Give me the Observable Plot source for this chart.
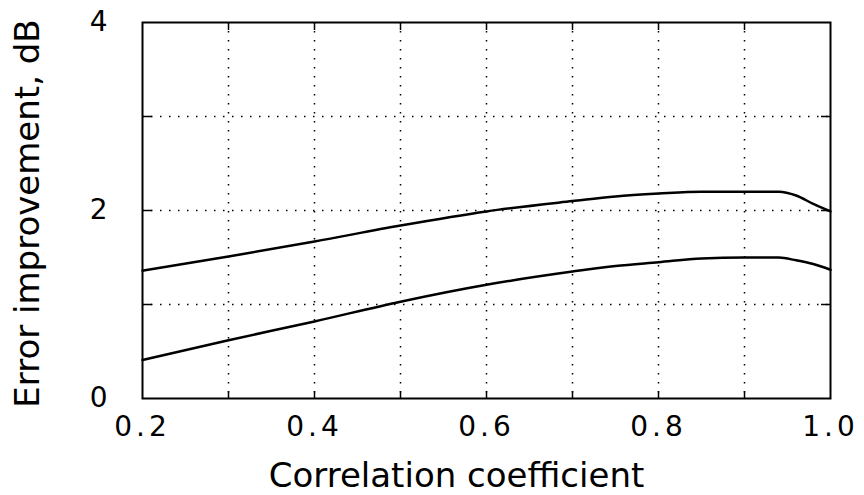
<!DOCTYPE html>
<html>
<head>
<meta charset="utf-8">
<script src="https://cdn.jsdelivr.net/npm/d3@7"></script>
<script src="https://cdn.jsdelivr.net/npm/@observablehq/plot@0.6"></script>
<style>
  html, body { margin: 0; padding: 0; background: #fff; }
  g[aria-label="x-axis tick label"] text { letter-spacing: 4px; }
</style>
</head>
<body>
<div id="chart"></div>
<script>
// Correlation coefficient (x) values where curves were read
const rho = [0.2, 0.3, 0.4, 0.5, 0.6, 0.7, 0.75, 0.8, 0.85, 0.9, 0.94, 0.96, 0.98, 1.0];
// Upper curve: error improvement, dB
const upperDb = [1.36, 1.51, 1.67, 1.84, 1.99, 2.10, 2.15, 2.18, 2.20, 2.20, 2.20, 2.16, 2.07, 1.99];
// Lower curve: error improvement, dB
const lowerDb = [0.41, 0.62, 0.82, 1.03, 1.21, 1.35, 1.41, 1.45, 1.49, 1.50, 1.50, 1.47, 1.43, 1.37];

const xTickLabels = [0.2, 0.4, 0.6, 0.8, 1.0];
const xGrid = [0.3, 0.4, 0.5, 0.6, 0.7, 0.8, 0.9];
const yTickLabels = [0, 2, 4];
const yGrid = [1, 2, 3];

const xLabel = "Correlation coefficient";
const yLabel = "Error improvement, dB";

const data = [
  ...rho.map((r, i) => ({rho: r, db: upperDb[i], curve: "upper"})),
  ...rho.map((r, i) => ({rho: r, db: lowerDb[i], curve: "lower"}))
];

const chart = Plot.plot({
  width: 864,
  height: 495,
  marginLeft: 142,
  marginRight: 34,
  marginTop: 22,
  marginBottom: 97,
  style: {fontFamily: "'DejaVu Sans', sans-serif", color: "black", background: "white"},
  x: {domain: [0.2, 1.0]},
  y: {domain: [0, 4]},
  marks: [
    Plot.gridX(xGrid, {stroke: "black", strokeOpacity: 1, strokeWidth: 1.5, strokeDasharray: "1.5,7.5"}),
    Plot.gridY(yGrid, {stroke: "black", strokeOpacity: 1, strokeWidth: 1.5, strokeDasharray: "1.5,7.5"}),
    Plot.axisX(xGrid, {anchor: "bottom", tickSize: -7, text: null, label: null, strokeWidth: 1.5}),
    Plot.axisX(xGrid, {anchor: "top", tickSize: -7, text: null, label: null, strokeWidth: 1.5}),
    Plot.axisY(yGrid, {anchor: "left", tickSize: -10, text: null, label: null, strokeWidth: 1.5}),
    Plot.axisY(yGrid, {anchor: "right", tickSize: -10, text: null, label: null, strokeWidth: 1.5}),
    Plot.axisX(xTickLabels, {anchor: "bottom", tickSize: 0, tickPadding: 18, fontSize: 28, tickFormat: d3.format(".1f"), label: null}),
    Plot.axisY(yTickLabels, {anchor: "left", tickSize: 0, tickPadding: 35, fontSize: 28, tickFormat: d3.format("d"), label: null}),
    Plot.frame({stroke: "black", strokeWidth: 2}),
    Plot.line(data, {x: "rho", y: "db", z: "curve", stroke: "black", strokeWidth: 2.5, curve: "monotone-x"}),
    Plot.text([xLabel], {frameAnchor: "bottom", lineAnchor: "middle", textAnchor: "middle", dy: 78, dx: -30, fontSize: 34, fill: "black", style: {letterSpacing: "1.5px"}}),
    Plot.text([yLabel], {frameAnchor: "left", lineAnchor: "middle", textAnchor: "middle", dx: -114, dy: 3, rotate: -90, fontSize: 34, fill: "black"})
  ]
});
document.getElementById("chart").appendChild(chart);
</script>
</body>
</html>
